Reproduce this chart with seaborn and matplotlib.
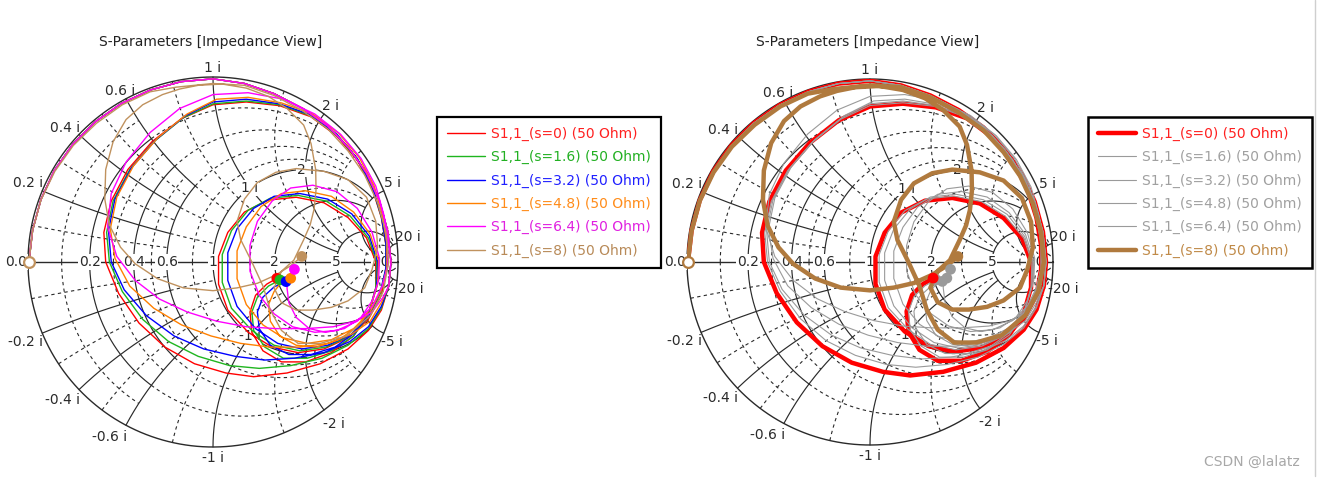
import numpy as np
import pandas as pd
import matplotlib
matplotlib.use("Agg")
import matplotlib.pyplot as plt
from matplotlib.lines import Line2D
import seaborn as sns

# ---------------- data (reflection coefficient, re / im) ----------------
series_names = ["S1,1_(s=0) (50 Ohm)", "S1,1_(s=1.6) (50 Ohm)", "S1,1_(s=3.2) (50 Ohm)",
                "S1,1_(s=4.8) (50 Ohm)", "S1,1_(s=6.4) (50 Ohm)", "S1,1_(s=8) (50 Ohm)"]

rim_common = [(-0.995, 0.00), (-0.975, 0.172), (-0.93, 0.338), (-0.857, 0.495), (-0.758, 0.636),
              (-0.636, 0.758), (-0.495, 0.857), (-0.338, 0.93), (-0.172, 0.975), (0.0, 0.99),
              (0.17, 0.965), (0.33, 0.91), (0.485, 0.83), (0.62, 0.735), (0.735, 0.615),
              (0.83, 0.48), (0.9, 0.33), (0.945, 0.165), (0.962, 0.0), (0.95, -0.13)]

s0_pts = rim_common + [
    (0.91, -0.26), (0.84, -0.37), (0.73, -0.47), (0.58, -0.55), (0.40, -0.60), (0.22, -0.62),
    (0.07, -0.60), (-0.10, -0.55), (-0.26, -0.46), (-0.40, -0.33), (-0.51, -0.17), (-0.58, 0.0),
    (-0.59, 0.16), (-0.55, 0.33), (-0.46, 0.50), (-0.33, 0.65), (-0.17, 0.775), (0.0, 0.85),
    (0.18, 0.865), (0.36, 0.845), (0.53, 0.785), (0.67, 0.68), (0.78, 0.55), (0.86, 0.40),
    (0.91, 0.24), (0.935, 0.09), (0.935, -0.04),
    (0.91, -0.18), (0.84, -0.31), (0.73, -0.41), (0.60, -0.47), (0.46, -0.49), (0.32, -0.46),
    (0.19, -0.38), (0.08, -0.26), (0.03, -0.12), (0.03, 0.03), (0.08, 0.16), (0.17, 0.27),
    (0.30, 0.335), (0.45, 0.35), (0.60, 0.32), (0.73, 0.24), (0.83, 0.13), (0.88, 0.0),
    (0.88, -0.14), (0.84, -0.28), (0.76, -0.40), (0.64, -0.49), (0.50, -0.54), (0.37, -0.54),
    (0.27, -0.48), (0.21, -0.38), (0.20, -0.27), (0.23, -0.18), (0.29, -0.12), (0.345, -0.088)]

s16_pts = rim_common + [
    (0.91, -0.25), (0.84, -0.36), (0.73, -0.45), (0.59, -0.52), (0.42, -0.56), (0.25, -0.575),
    (0.09, -0.56), (-0.08, -0.51), (-0.24, -0.43), (-0.38, -0.31), (-0.49, -0.16), (-0.56, 0.0),
    (-0.575, 0.16), (-0.54, 0.33), (-0.45, 0.50), (-0.32, 0.65), (-0.16, 0.78), (0.0, 0.855),
    (0.18, 0.87), (0.36, 0.85), (0.53, 0.79), (0.67, 0.685), (0.78, 0.555), (0.86, 0.405),
    (0.91, 0.245), (0.935, 0.095), (0.935, -0.035),
    (0.905, -0.17), (0.84, -0.30), (0.74, -0.40), (0.61, -0.46), (0.47, -0.48), (0.33, -0.45),
    (0.21, -0.37), (0.10, -0.25), (0.05, -0.11), (0.05, 0.04), (0.10, 0.17), (0.19, 0.28),
    (0.31, 0.345), (0.46, 0.36), (0.61, 0.33), (0.74, 0.25), (0.84, 0.13), (0.885, 0.0),
    (0.88, -0.14), (0.84, -0.28), (0.76, -0.40), (0.64, -0.48), (0.51, -0.52), (0.38, -0.52),
    (0.28, -0.46), (0.22, -0.37), (0.21, -0.27), (0.24, -0.19), (0.30, -0.13), (0.362, -0.097)]

s32_pts = rim_common + [
    (0.91, -0.24), (0.84, -0.35), (0.74, -0.43), (0.60, -0.49), (0.44, -0.52), (0.28, -0.53),
    (0.12, -0.51), (-0.05, -0.47), (-0.21, -0.40), (-0.36, -0.29), (-0.48, -0.15), (-0.55, 0.0),
    (-0.565, 0.17), (-0.53, 0.34), (-0.44, 0.51), (-0.31, 0.66), (-0.15, 0.79), (0.0, 0.865),
    (0.18, 0.88), (0.36, 0.855), (0.53, 0.795), (0.67, 0.69), (0.78, 0.56), (0.86, 0.41),
    (0.91, 0.25), (0.935, 0.10), (0.935, -0.03),
    (0.905, -0.16), (0.845, -0.29), (0.75, -0.39), (0.62, -0.45), (0.48, -0.47), (0.35, -0.44),
    (0.23, -0.36), (0.13, -0.24), (0.08, -0.10), (0.08, 0.05), (0.13, 0.18), (0.22, 0.29),
    (0.33, 0.355), (0.47, 0.37), (0.62, 0.34), (0.75, 0.26), (0.845, 0.14), (0.89, 0.0),
    (0.885, -0.13), (0.845, -0.27), (0.77, -0.38), (0.66, -0.46), (0.53, -0.50), (0.41, -0.50),
    (0.31, -0.45), (0.25, -0.36), (0.24, -0.27), (0.27, -0.19), (0.33, -0.135), (0.395, -0.106)]

s48_pts = rim_common + [
    (0.91, -0.22), (0.85, -0.32), (0.75, -0.39), (0.62, -0.44), (0.47, -0.46), (0.31, -0.46),
    (0.15, -0.44), (-0.01, -0.40), (-0.17, -0.34), (-0.32, -0.25), (-0.45, -0.13), (-0.53, 0.02),
    (-0.555, 0.18), (-0.52, 0.35), (-0.43, 0.52), (-0.30, 0.67), (-0.14, 0.80), (0.02, 0.88),
    (0.19, 0.89), (0.37, 0.86), (0.54, 0.80), (0.68, 0.695), (0.79, 0.565), (0.87, 0.415),
    (0.915, 0.255), (0.94, 0.10), (0.94, -0.03),
    (0.91, -0.15), (0.85, -0.27), (0.76, -0.36), (0.64, -0.42), (0.51, -0.44), (0.38, -0.41),
    (0.27, -0.34), (0.18, -0.23), (0.13, -0.09), (0.13, 0.06), (0.18, 0.19), (0.26, 0.30),
    (0.37, 0.37), (0.50, 0.385), (0.64, 0.355), (0.76, 0.27), (0.85, 0.15), (0.895, 0.01),
    (0.89, -0.12), (0.85, -0.25), (0.78, -0.35), (0.68, -0.42), (0.56, -0.46), (0.45, -0.45),
    (0.36, -0.40), (0.31, -0.32), (0.30, -0.23), (0.33, -0.16), (0.37, -0.11), (0.42, -0.088)]

s64_pts = rim_common + [
    (0.92, -0.19), (0.86, -0.27), (0.77, -0.32), (0.65, -0.35), (0.50, -0.36), (0.34, -0.36),
    (0.18, -0.35), (0.02, -0.32), (-0.14, -0.27), (-0.29, -0.20), (-0.42, -0.10), (-0.52, 0.03),
    (-0.57, 0.19), (-0.55, 0.37), (-0.47, 0.54), (-0.34, 0.70), (-0.18, 0.83), (0.0, 0.905),
    (0.19, 0.915), (0.38, 0.88), (0.55, 0.80), (0.69, 0.69), (0.80, 0.56), (0.88, 0.41),
    (0.925, 0.25), (0.945, 0.10), (0.945, -0.02),
    (0.915, -0.13), (0.86, -0.24), (0.78, -0.32), (0.67, -0.37), (0.55, -0.38), (0.43, -0.35),
    (0.33, -0.28), (0.25, -0.18), (0.20, -0.05), (0.20, 0.09), (0.24, 0.22), (0.32, 0.33),
    (0.42, 0.40), (0.54, 0.415), (0.67, 0.38), (0.78, 0.29), (0.86, 0.16), (0.90, 0.02),
    (0.895, -0.10), (0.86, -0.21), (0.80, -0.30), (0.71, -0.36), (0.61, -0.38), (0.52, -0.36),
    (0.45, -0.30), (0.41, -0.22), (0.40, -0.14), (0.41, -0.08), (0.43, -0.05), (0.44, -0.04)]

s8_pts = [
    (-0.995, 0.0), (-0.975, 0.17), (-0.93, 0.335), (-0.855, 0.49), (-0.755, 0.63), (-0.63, 0.75),
    (-0.49, 0.85), (-0.34, 0.92), (-0.2, 0.945), (-0.1, 0.955), (0.0, 0.965), (0.17, 0.955),
    (0.33, 0.9), (0.48, 0.82), (0.62, 0.72), (0.73, 0.6), (0.82, 0.47), (0.89, 0.32),
    (0.935, 0.16), (0.95, 0.0),
    (0.92, -0.16), (0.85, -0.29), (0.72, -0.40), (0.58, -0.44), (0.46, -0.44), (0.37, -0.37),
    (0.31, -0.26), (0.27, -0.13), (0.21, 0.0), (0.15, 0.12), (0.13, 0.22), (0.17, 0.34),
    (0.24, 0.43), (0.34, 0.485), (0.45, 0.505), (0.60, 0.49), (0.73, 0.445), (0.83, 0.35),
    (0.88, 0.22), (0.89, 0.08), (0.86, -0.04), (0.82, -0.14), (0.73, -0.21), (0.64, -0.245),
    (0.54, -0.26), (0.45, -0.26), (0.37, -0.22), (0.33, -0.14), (0.37, -0.05), (0.437, 0.01),
    (0.49, 0.12), (0.525, 0.2), (0.546, 0.284), (0.557, 0.39), (0.555, 0.5), (0.53, 0.64),
    (0.49, 0.74), (0.40, 0.83), (0.30, 0.895), (0.18, 0.94), (0.05, 0.962), (-0.08, 0.955),
    (-0.18, 0.935), (-0.273, 0.905), (-0.38, 0.85), (-0.47, 0.77), (-0.54, 0.65),
    (-0.58, 0.5), (-0.585, 0.34), (-0.56, 0.2), (-0.5, 0.08), (-0.42, -0.01), (-0.3, -0.09),
    (-0.16, -0.14), (0.0, -0.155), (0.13, -0.14), (0.24, -0.115), (0.34, -0.07), (0.42, -0.02),
    (0.48, 0.03)]

all_pts = [s0_pts, s16_pts, s32_pts, s48_pts, s64_pts, s8_pts]

left_colors = ["#ff0000", "#1fb51f", "#0000ff", "#ff8000", "#ff00ff", "#c0925e"]
left_text_colors = ["#ff2020", "#22b022", "#2020ff", "#ff8c1a", "#e020e0", "#b88a58"]
right_colors = ["#ff0000", "#9a9a9a", "#9a9a9a", "#9a9a9a", "#9a9a9a", "#b07a3e"]
right_text_colors = ["#ff2020", "#a0a0a0", "#a0a0a0", "#a0a0a0", "#a0a0a0", "#c08a48"]
right_widths = [3.2, 0.8, 0.8, 0.8, 0.8, 3.2]

# ---------------- styling / figure ----------------
sns.set_theme(style="white")
plt.rcParams['font.family'] = ['DejaVu Sans']

W, H = 1317, 479
fig = plt.figure(figsize=(W / 100, H / 100), dpi=100)

GRID = "#2a2a2a"
LBL = "#2a2a2a"
FS = 10


def add_axes_px(cx, cy, R):
    return fig.add_axes([(cx - R) / W, 1 - (cy + R) / H, 2 * R / W, 2 * R / H])


def zplot(ax, z, solid):
    g = (z - 1) / (z + 1)
    if solid:
        ax.plot(g.real, g.imag, color=GRID, lw=0.85, clip_on=False, zorder=1)
    else:
        ax.plot(g.real, g.imag, color=GRID, lw=0.8, ls=(0, (3, 3)), clip_on=False, zorder=1)


# resistance circles: (r, x_from, x_to, solid)
r_spec = [(0.1, 0, 0.6, False), (0.2, 0, 0.6, True), (0.2, 0.6, 2, False), (0.3, 0, 0.6, False),
          (0.4, 0, 0.6, True), (0.4, 0.6, 3, False), (0.5, 0, 0.6, False), (0.6, 0, 0.6, True),
          (0.6, 0.6, 3, False), (0.8, 0, 3, False), (1, 0, 5, True), (1.5, 0, 5, False),
          (2, 0, 5, True), (3, 0, 20, False), (5, 0, 20, True), (10, 0, 20, False), (20, 0, 50, True)]
# reactance arcs: (x, r_from, r_to, solid)
x_spec = [(0.1, 0, 0.6, False), (0.2, 0, 0.6, True), (0.2, 0.6, 1, False), (0.3, 0, 0.6, False),
          (0.4, 0, 0.6, True), (0.4, 0.6, 1, False), (0.5, 0, 0.6, False), (0.6, 0, 0.6, True),
          (0.6, 0.6, 1, False), (0.8, 0, 2, False), (1, 0, 5, True), (1.5, 0, 5, False),
          (2, 0, 5, True), (3, 0, 20, False), (5, 0, 20, True), (10, 0, 20, False), (20, 0, 50, True)]

rim_labels = [(1, "1 i", 0, -9), (0.6, "0.6 i", -6, -8), (0.4, "0.4 i", -14, -6),
              (0.2, "0.2 i", -14, -8), (2, "2 i", 6, -8), (5, "5 i", 9, -8), (20, "20 i", 11, -7),
              (-20, "-20 i", 11, 9), (-5, "-5 i", 8, 9), (-2, "-2 i", 10, 14), (-1, "-1 i", 0, 11),
              (-0.6, "-0.6 i", -16, 12), (-0.4, "-0.4 i", -17, 10), (-0.2, "-0.2 i", -17, 9)]
real_labels = [(0.2, "0.2"), (0.4, "0.4"), (0.6, "0.6"), (1, "1"), (2, "2"), (5, "5"), (20, "20")]
inner_labels = [(1 + 1j, "1 i"), (1 + 2j, "2 i"), (1 - 1j, "-1 i"), (1 - 2j, "-2 i")]


def smith_grid(ax):
    t = np.linspace(0, 2 * np.pi, 600)
    ax.plot(np.cos(t), np.sin(t), color=GRID, lw=1.0, clip_on=False, zorder=1)
    ax.plot([-1, 1], [0, 0], color=GRID, lw=1.0, clip_on=False, zorder=1)
    for r, x0, x1, solid in r_spec:
        x = np.linspace(x0, x1, 1500)
        zplot(ax, r + 1j * x, solid)
        zplot(ax, r - 1j * x, solid)
    for x, r0, r1, solid in x_spec:
        u = np.linspace(0, 1, 1500)
        r = r0 + (r1 - r0) * u ** 2
        zplot(ax, r + 1j * x, solid)
        zplot(ax, r - 1j * x, solid)
    bb = dict(facecolor="white", edgecolor="none", pad=0.5)
    for x, s, dx, dy in rim_labels:
        g = (1j * x - 1) / (1j * x + 1)
        ax.annotate(s, (g.real, g.imag), xytext=(dx, -dy), textcoords="offset pixels",
                    ha="center", va="center", fontsize=FS, color=LBL, zorder=3)
    ax.text(-1.065, 0, "0.0", ha="center", va="center", fontsize=FS, color=LBL, bbox=bb, zorder=3)
    for r, s in real_labels:
        g = (r - 1) / (r + 1)
        ax.text(g, 0, s, ha="center", va="center", fontsize=FS, color=LBL, bbox=bb, zorder=3)
    for z, s in inner_labels:
        g = (z - 1) / (z + 1)
        ax.text(g.real, g.imag, s, ha="center", va="center", fontsize=FS, color=LBL, bbox=bb, zorder=3)
    ax.set_xlim(-1, 1)
    ax.set_ylim(-1, 1)
    ax.set_aspect("equal")
    ax.axis("off")


def draw_traces(ax, colors, widths, order):
    for i in order:
        pts = np.array(all_pts[i])
        df = pd.DataFrame({"re": pts[:, 0], "im": pts[:, 1]})
        sns.lineplot(data=df, x="re", y="im", sort=False, estimator=None, color=colors[i],
                     lw=widths[i], ax=ax, zorder=5 + i, legend=False)
    for i in order:
        e = all_pts[i][-1]
        sns.scatterplot(x=[e[0]], y=[e[1]], color=colors[i], s=60, edgecolor="none",
                        ax=ax, zorder=12, legend=False)
    st = all_pts[5][0]
    ax.scatter([st[0]], [st[1]], s=60, facecolor="white", edgecolor=colors[5], lw=1.6,
               zorder=13, clip_on=False)
    ax.set_xlim(-1, 1)
    ax.set_ylim(-1, 1)
    ax.axis("off")


leg_kw = dict(loc="upper left", bbox_transform=fig.transFigure, fontsize=10,
              frameon=True, fancybox=False, framealpha=1, edgecolor="black",
              handlelength=2.7, handletextpad=0.45, labelspacing=0.66, borderpad=0.72,
              borderaxespad=0.0)

# ---------------- left chart ----------------
axL = add_axes_px(213, 262, 185)
smith_grid(axL)
draw_traces(axL, left_colors, [1.0] * 6, range(6))
fig.text(211 / W, 1 - 42 / H, "S-Parameters [Impedance View]", ha="center", va="center",
         fontsize=10, color="#222")

hl = [Line2D([], [], color=c, lw=1.0) for c in left_colors]
legL = fig.legend(hl, series_names, bbox_to_anchor=(437 / W, 1 - 117 / H),
                  labelcolor=left_text_colors, **leg_kw)
legL.get_frame().set_linewidth(1.6)

# ---------------- right chart ----------------
axR = add_axes_px(870, 262, 183)
smith_grid(axR)
draw_traces(axR, right_colors, right_widths, [1, 2, 3, 4, 0, 5])
fig.text(868 / W, 1 - 42 / H, "S-Parameters [Impedance View]", ha="center", va="center",
         fontsize=10, color="#222")

hr = [Line2D([], [], color=c, lw=w) for c, w in zip(right_colors, right_widths)]
legR = fig.legend(hr, series_names, bbox_to_anchor=(1088 / W, 1 - 117 / H),
                  labelcolor=right_text_colors, **leg_kw)
legR.get_frame().set_linewidth(1.8)

fig.text(1300 / W, 1 - 462 / H, "CSDN @lalatz", ha="right", va="center", fontsize=10,
         color="#a8a8a8")
fig.add_artist(Line2D([1315 / W, 1315 / W], [1 - 476 / H, 1.0], transform=fig.transFigure,
                      color="#cfcfcf", lw=1.0))

fig.savefig("out.png", dpi=100, facecolor="white")
